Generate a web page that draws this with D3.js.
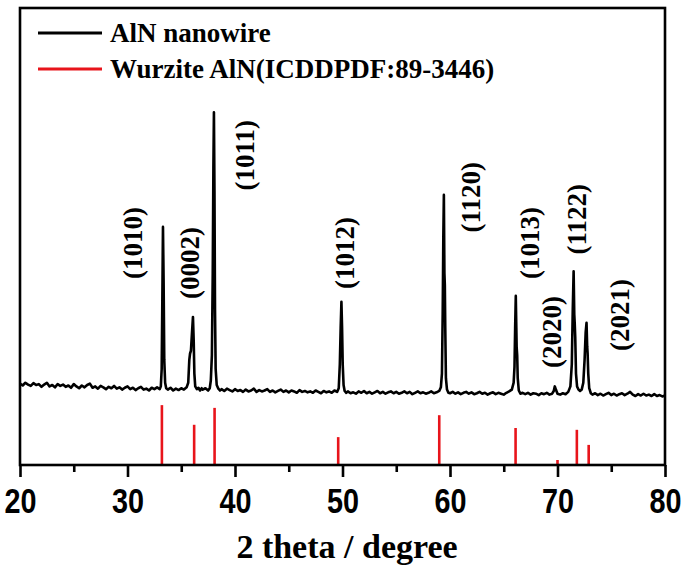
<!DOCTYPE html>
<html>
<head>
<meta charset="utf-8">
<script src="https://cdn.jsdelivr.net/npm/d3@7"></script>
<style>
  body { margin: 0; background: #fff; }
  svg { display: block; }
</style>
</head>
<body>
<div id="canva"></div>
<script>
// measured scan, [2theta, counts]
const scan = [
  [20.0,178],[20.25,174],[20.5,180],[20.75,176],
  [21.0,173],[21.25,179],[21.5,175],[21.75,177],
  [22.0,171],[22.25,176],[22.5,180],[22.75,172],
  [23.0,175],[23.25,170],[23.5,177],[23.75,173],
  [24.0,176],[24.25,171],[24.5,174],[24.75,169],
  [25.0,177],[25.25,172],[25.5,168],[25.75,174],
  [26.0,170],[26.25,175],[26.5,178],[26.75,169],
  [27.0,172],[27.25,167],[27.5,173],[27.75,170],
  [28.0,166],[28.25,171],[28.5,168],[28.75,173],
  [29.0,167],[29.25,170],[29.5,165],[29.75,169],
  [30.0,172],[30.25,166],[30.5,169],[30.75,164],
  [31.0,168],[31.25,171],[31.5,165],[31.75,167],
  [32.0,163],[32.25,169],[32.5,166],[32.75,170],
  [33.0,166],[33.1,172],[33.18,210],[33.24,360],[33.3,521],[33.36,400],[33.42,230],[33.5,180],[33.6,168],[33.75,165],
  [34.0,169],[34.25,163],[34.5,167],[34.75,164],
  [35.0,168],[35.25,165],[35.5,170],[35.65,180],[35.75,230],[35.82,244],[35.9,250],[36.0,290],[36.09,324],[36.16,270],[36.22,200],[36.3,172],[36.45,166],[36.6,169],[36.75,163],[36.9,168],
  [37.0,165],[37.25,168],[37.5,163],[37.65,168],[37.75,185],[37.85,240],[37.93,420],[37.99,650],[38.04,772],[38.09,600],[38.14,340],[38.2,210],[38.3,175],[38.45,167],[38.6,163],[38.75,166],
  [39.0,162],[39.25,167],[39.5,164],[39.75,161],
  [40.0,166],[40.25,162],[40.5,164],[40.75,160],
  [41.0,165],[41.25,161],[41.5,163],[41.75,167],
  [42.0,160],[42.25,164],[42.5,161],[42.75,163],
  [43.0,166],[43.25,160],[43.5,163],[43.75,159],
  [44.0,162],[44.25,165],[44.5,160],[44.75,163],
  [45.0,159],[45.25,163],[45.5,161],[45.75,158],
  [46.0,164],[46.25,160],[46.5,162],[46.75,159],
  [47.0,161],[47.25,158],[47.5,163],[47.75,160],
  [48.0,157],[48.25,162],[48.5,159],[48.75,161],
  [49.0,158],[49.25,163],[49.5,160],[49.65,168],[49.75,220],[49.83,300],[49.9,357],[49.96,300],[50.02,220],[50.1,175],[50.2,162],
  [50.35,158],[50.5,161],[50.75,157],
  [51.0,159],[51.25,156],[51.5,161],[51.75,158],
  [52.0,162],[52.25,157],[52.5,160],[52.75,156],
  [53.0,159],[53.25,162],[53.5,157],[53.75,160],
  [54.0,156],[54.25,159],[54.5,161],[54.75,157],
  [55.0,160],[55.25,156],[55.5,158],[55.75,161],
  [56.0,157],[56.25,160],[56.5,155],[56.75,158],
  [57.0,161],[57.25,157],[57.5,159],[57.75,156],
  [58.0,158],[58.25,161],[58.5,157],[58.75,159],
  [59.0,162],[59.15,170],[59.25,200],[59.32,330],[59.38,500],[59.43,591],[59.48,420],[59.52,394],[59.56,300],[59.62,190],[59.72,165],[59.85,158],
  [60.0,157],[60.25,160],[60.5,156],[60.75,159],
  [61.0,155],[61.25,158],[61.5,160],[61.75,156],
  [62.0,159],[62.25,155],[62.5,157],[62.75,160],
  [63.0,156],[63.25,158],[63.5,154],[63.75,157],
  [64.0,159],[64.25,155],[64.5,158],[64.75,156],
  [65.0,154],[65.25,158],[65.5,161],[65.75,165],
  [65.92,180],[66.0,215],[66.06,300],[66.12,370],[66.17,300],[66.2,258],[66.25,240],[66.3,190],[66.4,163],[66.55,156],[66.75,158],
  [67.0,155],[67.25,158],[67.5,154],[67.75,157],
  [68.0,156],[68.25,153],[68.5,157],[68.75,155],
  [69.0,158],[69.25,154],[69.5,156],[69.65,162],[69.75,172],[69.85,165],
  [70.0,156],[70.25,154],[70.5,157],[70.75,155],
  [71.0,160],[71.2,172],[71.33,220],[71.42,340],[71.5,424],[71.56,330],[71.6,311],[71.65,280],[71.72,200],[71.82,172],[71.95,165],
  [72.1,162],[72.25,165],[72.4,180],[72.52,230],[72.62,290],[72.7,311],[72.76,260],[72.8,245],[72.86,200],[72.95,168],[73.1,157],
  [73.25,154],[73.5,157],[73.75,153],
  [74.0,156],[74.25,152],[74.5,155],[74.75,158],
  [75.0,153],[75.25,156],[75.5,152],[75.75,155],
  [76.0,157],[76.25,153],[76.5,156],[76.75,160],
  [77.0,154],[77.25,151],[77.5,155],[77.75,152],
  [78.0,156],[78.25,152],[78.5,154],[78.75,151],
  [79.0,155],[79.25,151],[79.5,153],[79.75,150],
  [80.0,152]
];

// ICDD PDF 89-3446 reference lines
const refAngle = [33.2, 36.2, 38.1, 49.6, 59.0, 66.1, 70.0, 71.8, 72.9];
const refIntensity = [131, 88, 125, 61, 109, 81, 11, 77, 44];

// hkl labels, placed by angle and count level
const peakLabels = ["(1010)", "(0002)", "(1011)", "(1012)", "(1120)", "(1013)", "(2020)", "(1122)", "(2021)"];
const labelAngle = [30.5, 35.8, 40.9, 50.2, 61.95, 67.45, 69.5, 71.8, 75.8];
const labelLevel = [486, 442, 678, 464, 586, 486, 291, 538, 328];

const xTicks = [20, 30, 40, 50, 60, 70, 80];
const xMinorTicks = [25, 35, 45, 55, 65, 75];

const legendNames = ["AlN nanowire", "Wurzite AlN(ICDDPDF:89-3446)"];
const legendColors = ["#000000", "#e8141b"];

const width = 685, height = 574;
const margin = { top: 8, right: 20, bottom: 109, left: 20 };

const svg = d3.select('#canva').append('svg')
    .attr('width', width)
    .attr('height', height);

const x = d3.scaleLinear()
    .domain([20, 80])
    .range([margin.left, width - margin.right]);

const y = d3.scaleLinear()
    .domain([0, 1000])
    .range([height - margin.bottom, margin.top]);

// reference sticks
svg.selectAll('.ref')
    .data(refAngle)
    .enter()
    .append('line')
    .attr('class', 'ref')
    .attr('x1', d => x(d))
    .attr('x2', d => x(d))
    .attr('y1', y(0))
    .attr('y2', (d, i) => y(refIntensity[i]))
    .attr('stroke', legendColors[1])
    .attr('stroke-width', 2.6);

// measured pattern
const line = d3.line()
    .x(d => x(d[0]))
    .y(d => y(d[1]));

svg.append('path')
    .datum(scan)
    .attr('d', line)
    .attr('fill', 'none')
    .attr('stroke', '#000')
    .attr('stroke-width', 2.6)
    .attr('stroke-linejoin', 'round');

// frame
svg.append('rect')
    .attr('x', x(20))
    .attr('y', y(1000))
    .attr('width', x(80) - x(20))
    .attr('height', y(0) - y(1000))
    .attr('fill', 'none')
    .attr('stroke', '#000')
    .attr('stroke-width', 2.6);

// x axis
const xAxis = svg.append('g')
    .attr('transform', `translate(0,${y(0)})`)
    .call(d3.axisBottom(x).tickValues(xTicks).tickSize(12).tickFormat(d3.format('d')));

xAxis.select('.domain').remove();
xAxis.selectAll('.tick line').attr('stroke-width', 2.6);
xAxis.selectAll('.tick text')
    .attr('y', 22)
    .attr('transform', 'scale(0.8,1)')
    .attr('font-family', '"Liberation Sans", Arial, sans-serif')
    .attr('font-weight', 'bold')
    .attr('font-size', 36)
    .attr('fill', '#000');

svg.append('g')
    .attr('transform', `translate(0,${y(0)})`)
    .call(d3.axisBottom(x).tickValues(xMinorTicks).tickSize(7).tickFormat(''))
    .call(g => g.select('.domain').remove())
    .selectAll('.tick line').attr('stroke-width', 2.6);

svg.append('text')
    .attr('x', 347)
    .attr('y', 558)
    .attr('text-anchor', 'middle')
    .attr('font-family', '"Liberation Serif", "Times New Roman", serif')
    .attr('font-weight', 'bold')
    .attr('font-size', 34)
    .text('2 theta / degree');

// peak labels
svg.selectAll('.hkl')
    .data(peakLabels)
    .enter()
    .append('text')
    .attr('class', 'hkl')
    .attr('transform', (d, i) => `translate(${x(labelAngle[i])},${y(labelLevel[i])}) rotate(-90)`)
    .attr('text-anchor', 'middle')
    .attr('dominant-baseline', 'central')
    .attr('font-family', '"Liberation Serif", "Times New Roman", serif')
    .attr('font-weight', 'bold')
    .attr('font-size', 27)
    .text(d => d);

// legend
const legend = svg.selectAll('.legend')
    .data(legendNames)
    .enter()
    .append('g')
    .attr('class', 'legend')
    .attr('transform', (d, i) => `translate(38,${33 + i * 36})`);

legend.append('line')
    .attr('x1', 0)
    .attr('x2', 64)
    .attr('stroke', (d, i) => legendColors[i])
    .attr('stroke-width', 3);

legend.append('text')
    .attr('x', 72)
    .attr('y', 9)
    .attr('font-family', '"Liberation Serif", "Times New Roman", serif')
    .attr('font-weight', 'bold')
    .attr('font-size', 27)
    .text(d => d);
</script>
</body>
</html>
